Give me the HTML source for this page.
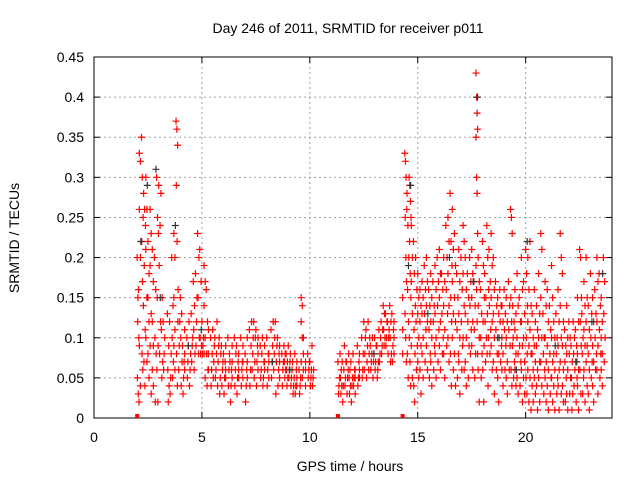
<!DOCTYPE html>
<html><head><meta charset="utf-8"><style>
body{margin:0;background:#fff;}
svg{display:block;font-family:"Liberation Sans",sans-serif;}
</style></head><body>
<svg id="chart" width="640" height="480" viewBox="0 0 640 480" xmlns="http://www.w3.org/2000/svg">
<rect width="640" height="480" fill="#fff"/>
<text x="348" y="33" font-size="14" text-anchor="middle">Day 246 of 2011, SRMTID for receiver p011</text>
<text x="350" y="471" font-size="14" text-anchor="middle">GPS time / hours</text>
<text transform="translate(19,238) rotate(-90)" font-size="14" text-anchor="middle">SRMTID / TECUs</text>
<g id="grid"></g><g id="axes"></g><g id="marks"></g>
</svg>
<script>
const xTicks=[0,5,10,15,20];
const yTicks=[0,0.05,0.1,0.15,0.2,0.25,0.3,0.35,0.4,0.45];
const yTickLabels=["0","0.05","0.1","0.15","0.2","0.25","0.3","0.35","0.4","0.45"];
const zeroMarkers=[2.0,11.3,14.3];
const groupHours=[2.0,2.1,2.2,2.3,2.4,2.5,2.6,2.7,2.8,2.9,3.0,3.1,3.2,3.4,3.5,3.6,3.7,3.8,3.9,4.0,4.1,4.2,4.3,4.4,4.5,4.6,4.7,4.8,4.9,5.0,5.1,5.2,5.3,
5.4,5.5,5.6,5.7,5.8,5.9,6.0,6.1,6.2,6.3,6.4,6.5,6.6,6.7,6.8,6.9,7.0,7.1,7.2,7.3,7.4,7.5,7.6,7.7,7.8,7.9,8.0,8.1,8.2,8.3,8.4,8.5,8.6,8.7,8.8,8.9,9.0,9.1,9.2,9.3,9.4,9.5,9.6,9.7,9.8,9.9,10.0,10.1,
11.3,11.4,11.5,11.6,11.7,11.8,11.9,12.0,12.1,12.2,12.3,12.4,12.5,12.6,12.7,12.8,12.9,13.0,13.1,13.2,13.3,13.4,13.5,13.6,13.7,13.8,13.9,
14.3,14.4,14.5,14.6,14.7,14.8,14.9,15.0,15.1,15.2,15.3,15.4,15.5,15.6,15.7,15.8,15.9,16.0,16.1,16.2,16.3,16.4,16.5,16.6,16.7,16.8,16.9,17.0,17.1,17.2,17.3,17.4,17.5,17.6,17.7,17.8,17.9,18.0,18.1,18.2,18.3,18.4,18.5,18.6,18.7,18.8,18.9,19.0,19.1,19.2,19.3,19.4,19.5,19.6,19.7,19.8,19.9,20.0,20.1,20.2,20.3,20.4,20.5,20.6,20.7,20.8,20.9,21.0,21.1,21.2,21.3,21.4,21.5,21.6,21.7,21.8,21.9,22.0,22.1,22.2,22.3,22.4,22.5,22.6,22.7,22.8,22.9,23.0,23.1,23.2,23.3,23.4,23.5,23.6];
const groupValues=[
[0.2,0.15,0.1,0.05,0.03,0.02,0.12,0.16],[0.33,0.32,0.26,0.2,0.09,0.04],[0.35,0.3,0.25,0.22,0.17,0.14,0.08,0.06],[0.28,0.26,0.24,0.19,0.11,0.07,0.04],[0.3,0.26,0.21,0.15,0.1,0.07],[0.22,0.18,0.15,0.12,0.08,0.05],[0.26,0.23,0.19,0.13,0.09,0.03],[0.21,0.17,0.12,0.09,0.06,0.04],[0.2,0.16,0.1,0.08,0.02],[0.3,0.25,0.23,0.15,0.09,0.06,0.02],[0.29,0.24,0.19,0.12,0.08],[0.28,0.15,0.11,0.07,0.05],[0.12,0.1,0.08,0.06],[0.13,0.09,0.06,0.04,0.02],[0.12,0.08,0.05,0.03],[0.2,0.14,0.1,0.07,0.05],[0.23,0.2,0.15,0.11,0.09,0.06],[0.37,0.36,0.34,0.29,0.22,0.12,0.08,0.04],[0.16,0.12,0.09,0.06],[0.15,0.13,0.1,0.07,0.04],[0.09,0.07,0.05,0.03],[0.11,0.08,0.06],[0.1,0.09,0.07,0.05],[0.12,0.08,0.06,0.04],[0.13,0.1,0.09,0.07],[0.17,0.14,0.11,0.08,0.06],[0.18,0.15,0.12,0.09],[0.23,0.2,0.15,0.1,0.08],[0.21,0.17,0.1,0.09,0.08],[0.12,0.1,0.09,0.08],[0.19,0.17,0.14,0.1,0.08,0.05],[0.16,0.12,0.08,0.06,0.04],[0.11,0.08,0.06],
[0.1,0.08,0.06,0.04],[0.11,0.09,0.07,0.05],[0.1,0.08,0.06,0.05],[0.12,0.09,0.07,0.04],[0.1,0.08,0.05,0.03],[0.09,0.07,0.06,0.04],[0.08,0.07,0.05,0.03],[0.09,0.06,0.05],[0.1,0.08,0.06,0.04],[0.07,0.06,0.04,0.02],[0.09,0.07,0.05],[0.1,0.08,0.06,0.04],[0.09,0.07,0.05,0.03],[0.08,0.06,0.05],[0.1,0.07,0.06,0.04],[0.09,0.07,0.05],[0.08,0.06,0.04,0.02],[0.1,0.07,0.05],[0.11,0.09,0.06,0.04],[0.12,0.1,0.08,0.06],[0.12,0.1,0.07,0.05],[0.11,0.09,0.07,0.04],[0.1,0.08,0.06],[0.09,0.08,0.06,0.05],[0.1,0.07,0.05,0.04],[0.09,0.07,0.06],[0.1,0.08,0.06,0.04],[0.08,0.07,0.05],[0.11,0.09,0.07,0.05],[0.12,0.1,0.08,0.06],[0.12,0.09,0.07,0.03],[0.1,0.08,0.06,0.04],[0.09,0.07,0.05],[0.08,0.07,0.06,0.04],[0.09,0.08,0.07,0.06,0.05],[0.08,0.07,0.06,0.05,0.04],[0.09,0.07,0.06,0.05],[0.08,0.06,0.05,0.04],[0.07,0.05,0.04,0.03],[0.08,0.06,0.04,0.03],[0.07,0.05,0.04],[0.06,0.05,0.04,0.03],[0.15,0.14,0.12,0.1,0.07,0.05],[0.1,0.08,0.06],[0.07,0.06,0.04],[0.08,0.07,0.06,0.05],[0.07,0.06,0.05,0.04],[0.09,0.06,0.05,0.04],
[0.07,0.05,0.04,0.03],[0.08,0.06,0.05,0.04,0.03],[0.07,0.06,0.04,0.02],[0.09,0.07,0.05,0.04],[0.07,0.06,0.05,0.03],[0.08,0.06,0.05,0.04,0.03],[0.07,0.05,0.04,0.02],[0.08,0.06,0.05,0.04],[0.06,0.05,0.03],[0.09,0.07,0.05,0.04],[0.08,0.06,0.05],[0.1,0.08,0.06,0.05],[0.12,0.1,0.08,0.06],[0.11,0.09,0.07,0.05],[0.12,0.1,0.08,0.06],[0.09,0.08,0.07,0.06],[0.1,0.08,0.07,0.05],[0.1,0.09,0.07,0.06],[0.09,0.07,0.06,0.05],[0.11,0.1,0.08,0.07],[0.12,0.11,0.09,0.08],[0.14,0.13,0.11,0.1,0.09],[0.13,0.12,0.1,0.09],[0.12,0.11,0.1,0.08],[0.14,0.12,0.1,0.08,0.07],[0.13,0.11,0.09,0.07],[0.12,0.1,0.08],
[0.15,0.11,0.08],[0.33,0.32,0.3,0.26,0.25,0.2,0.17,0.13,0.1,0.07],[0.28,0.24,0.2,0.16,0.12,0.08,0.05],[0.3,0.29,0.27,0.25,0.22,0.18,0.15,0.1,0.07,0.04],[0.24,0.2,0.17,0.13,0.09,0.05],[0.22,0.18,0.14,0.11,0.08,0.04,0.02],[0.2,0.16,0.12,0.09,0.06],[0.18,0.15,0.13,0.1,0.07,0.05],[0.16,0.14,0.12,0.09,0.06,0.03],[0.17,0.15,0.13,0.1,0.08,0.05],[0.19,0.16,0.13,0.11,0.07],[0.2,0.17,0.14,0.12,0.09,0.06],[0.16,0.14,0.11,0.08,0.05],[0.18,0.15,0.12,0.1,0.07,0.04],[0.17,0.14,0.12,0.09,0.06],[0.19,0.16,0.13,0.1,0.08,0.05],[0.2,0.17,0.14,0.11,0.07],[0.21,0.18,0.15,0.12,0.09,0.06],[0.18,0.16,0.13,0.1,0.08],[0.2,0.17,0.14,0.11,0.08,0.05],[0.24,0.2,0.16,0.13,0.09],[0.25,0.22,0.18,0.14,0.1,0.07],[0.28,0.22,0.19,0.15,0.12,0.08,0.04],[0.26,0.21,0.17,0.13,0.1,0.06],[0.23,0.19,0.15,0.12,0.08,0.04],[0.18,0.15,0.11,0.08,0.05],[0.21,0.17,0.13,0.1,0.07,0.03],[0.2,0.16,0.12,0.09,0.06],[0.24,0.22,0.18,0.14,0.1,0.06],[0.2,0.16,0.13,0.1,0.07,0.04],[0.18,0.15,0.12,0.09,0.05],[0.2,0.17,0.14,0.11,0.08],[0.21,0.18,0.15,0.12,0.09,0.06],[0.17,0.14,0.11,0.08,0.05],[0.43,0.4,0.38,0.36,0.35,0.3,0.28,0.23,0.19,0.16,0.12,0.08],[0.2,0.17,0.14,0.1,0.06,0.02],[0.16,0.13,0.1,0.08,0.05],[0.22,0.19,0.15,0.12,0.09,0.06,0.02],[0.18,0.15,0.12,0.1,0.07],[0.24,0.2,0.16,0.13,0.1,0.08,0.04],[0.21,0.17,0.14,0.11,0.08],[0.23,0.19,0.15,0.12,0.09,0.06],[0.2,0.16,0.13,0.1,0.07,0.03],[0.17,0.14,0.11,0.08,0.06],[0.15,0.13,0.1,0.08,0.05,0.02],[0.16,0.14,0.12,0.09,0.07],[0.14,0.12,0.1,0.08,0.06,0.04],[0.16,0.13,0.11,0.09,0.06],[0.15,0.12,0.1,0.07,0.05,0.03],[0.17,0.14,0.11,0.09,0.06],[0.26,0.25,0.23,0.15,0.12,0.09,0.06,0.04],[0.14,0.12,0.1,0.07,0.05],[0.16,0.13,0.11,0.08,0.06,0.04],[0.18,0.14,0.1,0.08,0.05,0.03],[0.15,0.12,0.09,0.07,0.04],[0.2,0.16,0.12,0.09,0.06,0.02],[0.17,0.13,0.1,0.07,0.05,0.03],[0.21,0.18,0.14,0.1,0.08,0.05,0.03],[0.2,0.16,0.12,0.09,0.06,0.02],[0.22,0.14,0.11,0.08,0.05,0.01],[0.13,0.1,0.08,0.06,0.04,0.02],[0.16,0.12,0.09,0.07,0.05,0.03],[0.14,0.11,0.09,0.06,0.04,0.01],[0.18,0.13,0.1,0.07,0.05,0.02],[0.23,0.21,0.15,0.1,0.07,0.04],[0.13,0.1,0.08,0.06,0.03],[0.17,0.14,0.1,0.07,0.05,0.02],[0.16,0.12,0.09,0.06,0.04,0.01],[0.14,0.11,0.08,0.05,0.03],[0.19,0.15,0.1,0.07,0.05,0.02],[0.12,0.1,0.08,0.06,0.04,0.01],[0.13,0.1,0.08,0.05,0.03],[0.16,0.12,0.09,0.06,0.04,0.01],[0.23,0.2,0.14,0.1,0.07,0.03],[0.18,0.12,0.09,0.06,0.04,0.02],[0.11,0.09,0.07,0.05,0.02],[0.14,0.1,0.08,0.06,0.03,0.01],[0.12,0.1,0.08,0.05,0.03],[0.09,0.07,0.05,0.03,0.01],[0.12,0.1,0.08,0.06,0.04],[0.11,0.09,0.07,0.05,0.02],[0.15,0.12,0.08,0.06,0.04,0.01],[0.21,0.2,0.15,0.12,0.09,0.06,0.03],[0.13,0.1,0.08,0.05,0.03],[0.17,0.14,0.11,0.09,0.06,0.02],[0.2,0.15,0.12,0.09,0.07,0.04],[0.14,0.11,0.08,0.06,0.03,0.01],[0.18,0.13,0.1,0.07,0.05],[0.15,0.12,0.09,0.07,0.04,0.02],[0.16,0.13,0.1,0.08,0.06],[0.2,0.17,0.12,0.09,0.06,0.03],[0.18,0.14,0.11,0.08,0.05],[0.15,0.12,0.1,0.08,0.06,0.04],[0.2,0.17,0.13,0.1,0.07]];
const blackHours=[2.1,2.4,2.8,3.0,3.7,4.3,4.9,8.2,9.0,12.9,14.5,14.6,15.4,16.4,17.5,17.7,18.7,19.5,20.0,21.3,22.3,23.0,23.5];
const blackValues=[0.22,0.29,0.31,0.15,0.24,0.09,0.11,0.07,0.06,0.08,0.19,0.29,0.13,0.2,0.17,0.4,0.1,0.06,0.22,0.09,0.07,0.12,0.18];

const NS="http://www.w3.org/2000/svg";
const L=94,R=612,T=57,B=418,XMAX=24,YMAX=0.45,BIN=0.1;
function xs(h){return L+h/XMAX*(R-L);}
function ys(v){return B-v/YMAX*(B-T);}
function mk(tag,attrs,parent){const e=document.createElementNS(NS,tag);for(const k in attrs)e.setAttribute(k,attrs[k]);parent.appendChild(e);return e;}
const grid=document.getElementById('grid'),axes=document.getElementById('axes'),marks=document.getElementById('marks');
xTicks.forEach(t=>{
  const x=xs(t);
  if(t>0){const g=mk('line',{x1:x,x2:x,y1:T,y2:B,stroke:'#a0a0a0','stroke-dasharray':'2,3'},grid);
  
  }
  mk('line',{x1:x,x2:x,y1:B,y2:B-6,stroke:'#000'},axes);
  mk('line',{x1:x,x2:x,y1:T,y2:T+6,stroke:'#000'},axes);
  const lb=mk('text',{x:x,y:B+24,'font-size':14,'text-anchor':'middle'},axes);lb.textContent=String(t);
  
  
});
yTicks.forEach((t,i)=>{
  const y=ys(t);
  if(t>0&&t<YMAX){const g=mk('line',{x1:L,x2:R,y1:y,y2:y,stroke:'#a0a0a0','stroke-dasharray':'2,3'},grid);
  
  }
  mk('line',{x1:L,x2:L+6,y1:y,y2:y,stroke:'#000'},axes);
  mk('line',{x1:R,x2:R-6,y1:y,y2:y,stroke:'#000'},axes);
  const lb=mk('text',{x:L-10,y:y+5,'font-size':14,'text-anchor':'end'},axes);lb.textContent=yTickLabels[i];
  
  
});
const frame=mk('rect',{x:L,y:T,width:R-L,height:B-T,fill:'none',stroke:'#000'},axes);


function plus(x,y,color){
  return mk('path',{d:`M${x-3.5},${y}h7M${x},${y-3.5}v7`,stroke:color,'stroke-width':1.2,fill:'none'},marks);
}
groupHours.forEach((h,i)=>{
  const n=groupValues[i].length;
  groupValues[i].forEach((v,j)=>{
    // spread samples within the time bin in acquisition order
    const t=h+((j*3)%n)/n*BIN;
    const p=plus(xs(t),ys(v),'#ff0000');
    
    
  });
});
blackHours.forEach((h,i)=>{
  const p=plus(xs(h)+1.5,ys(blackValues[i]),'#333');
  
  
});
zeroMarkers.forEach(h=>{
  const r=mk('rect',{x:xs(h)-2,y:B-4,width:4,height:4,fill:'#ff0000'},marks);
  
  
});
</script>
</body></html>
